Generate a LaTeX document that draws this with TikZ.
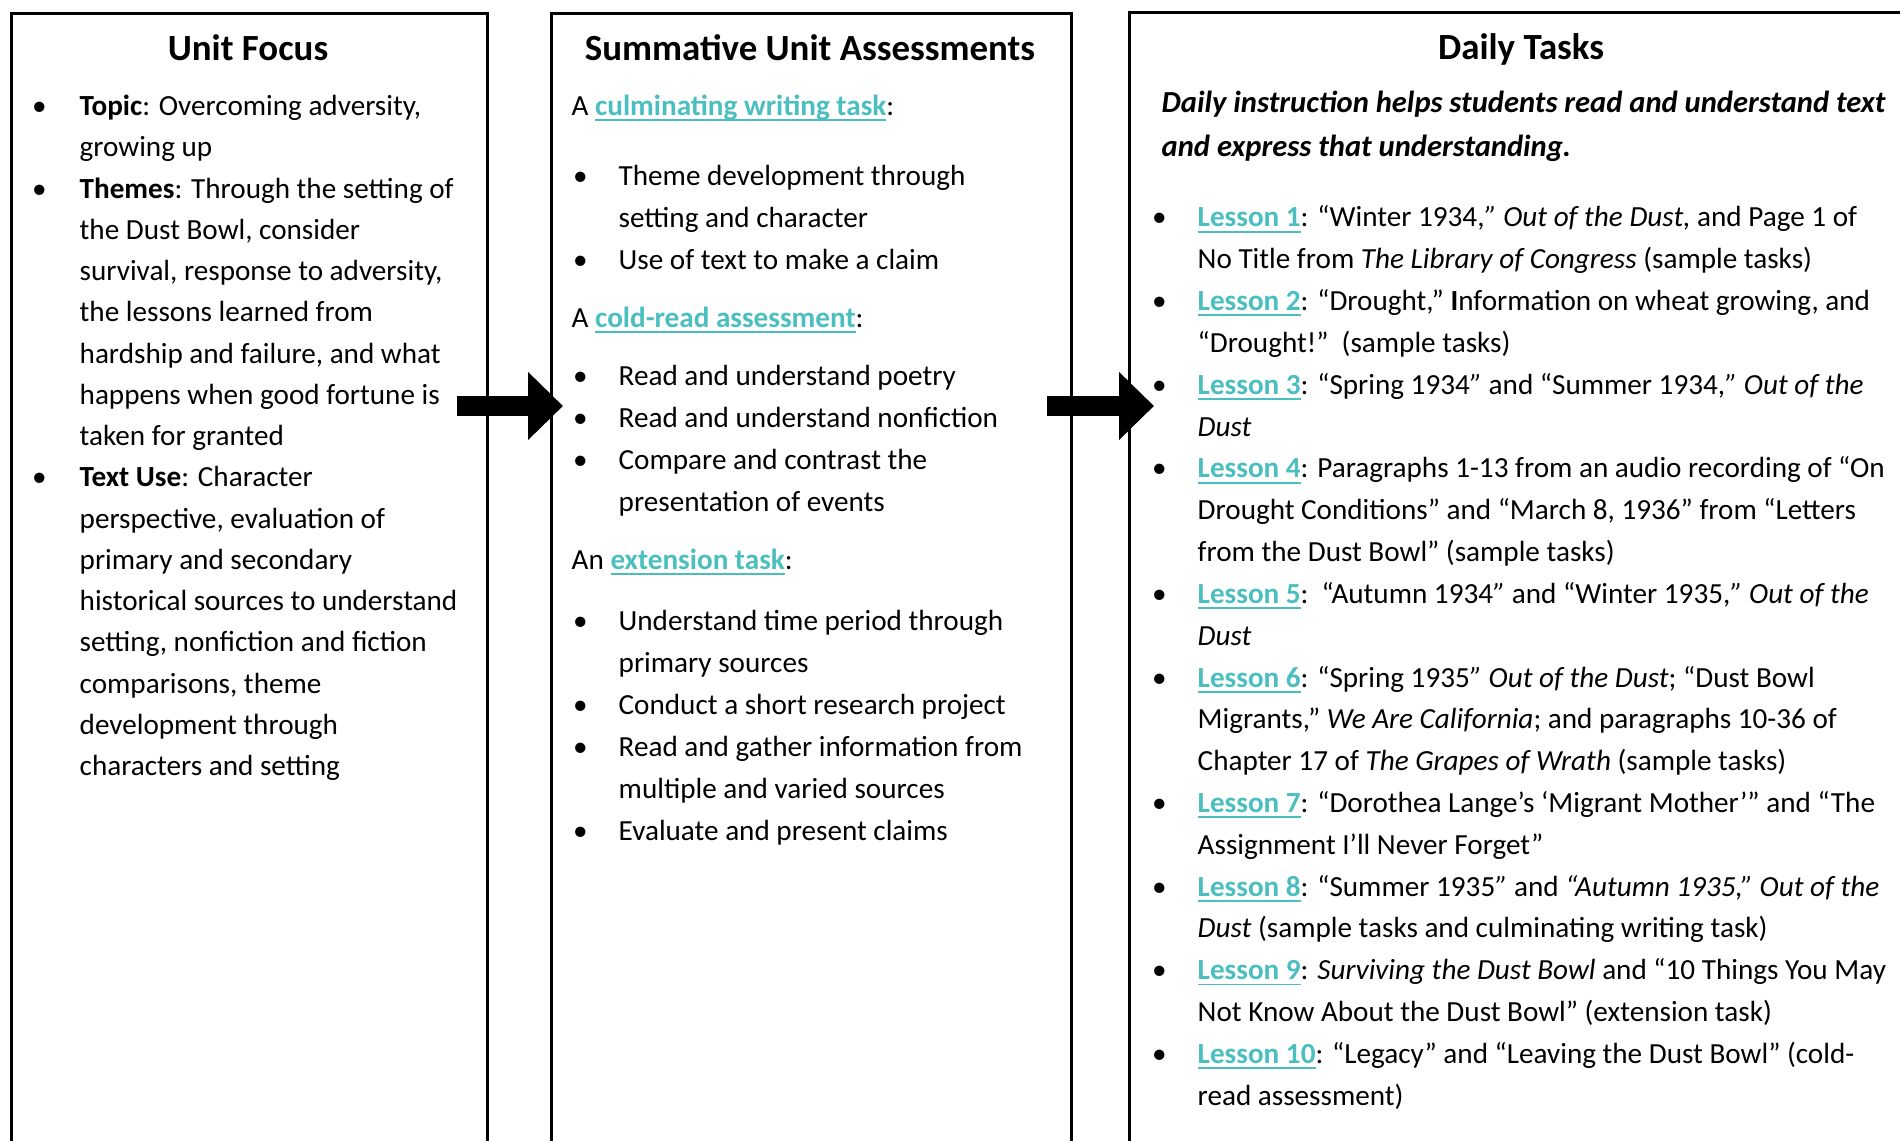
\documentclass[tikz,border=0pt]{standalone}
\usepackage{fontspec}
\setmainfont{Carlito}
\usetikzlibrary{arrows.meta}
\tikzset{>=latex}
\definecolor{linkteal}{RGB}{75,190,192}
\def\framethickness{0.9pt}

\newlength{\bulsep}
\newlength{\hdrshift}
\newcommand{\lnk}[1]{{\bfseries\color{linkteal}\setbox0\hbox{#1}\rlap{\rule[-1.6pt]{\wd0}{0.55pt}}\box0}}
\newcommand{\bulline}[1]{\hbox{\llap{\textbullet\hspace{\bulsep}}#1}}
\newcommand{\contline}[1]{\hbox{#1}}
\newcommand{\hdrline}[1]{\hbox{\hspace*{-\hdrshift}#1}}

\tikzset{
  panel/.style={draw, line width=\framethickness, inner sep=0pt, anchor=north west},
  heading/.style={font=\fontsize{10.5}{12}\selectfont\bfseries, anchor=base, inner sep=0pt},
  bodytext/.style={anchor=base west, inner sep=0pt},
  blockarrow/.style={line width=2mm, -{Triangle[length=3.5mm, width=6.6mm]}}
}

\begin{document}
\begin{tikzpicture}
    \useasboundingbox (0,0) rectangle (19,-11.41);
    \clip (0,0) rectangle (19,-11.41);
    % the three columns
    \node[panel, minimum width=4.76cm, minimum height=11.7cm] (focusbox) at (0.10,-0.12) {};
    \node[panel, minimum width=5.20cm, minimum height=11.7cm] (summbox) at (5.50,-0.12) {};
    \node[panel, minimum width=7.86cm, minimum height=11.7cm] (dailybox) at (11.28,-0.11) {};
    \node[heading] (focustitle) at (2.48,-0.605) {Unit Focus};
    \node[heading] (summtitle) at (8.10,-0.605) {Summative Unit Assessments};
    \node[heading] (dailytitle) at (15.21,-0.595) {Daily Tasks};
    % Unit Focus
    \node[bodytext, font=\fontsize{8.3}{11.74}\selectfont] (focustext) at (0.79,-1.155) {\setlength{\bulsep}{0.33cm}\vtop{%
        \bulline{\textbf{Topic}: Overcoming adversity,}
        \contline{growing up}
        \bulline{\textbf{Themes}: Through the setting of}
        \contline{the Dust Bowl, consider}
        \contline{survival, response to adversity,}
        \contline{the lessons learned from}
        \contline{hardship and failure, and what}
        \contline{happens when good fortune is}
        \contline{taken for granted}
        \bulline{\textbf{Text Use}: Character}
        \contline{perspective, evaluation of}
        \contline{primary and secondary}
        \contline{historical sources to understand}
        \contline{setting, nonfiction and fiction}
        \contline{comparisons, theme}
        \contline{development through}
        \contline{characters and setting}}};
    % Summative Unit Assessments
    \node[bodytext, font=\fontsize{8.3}{11.95}\selectfont] (summtext) at (6.18,-1.155) {\setlength{\bulsep}{0.31cm}\setlength{\hdrshift}{0.47cm}\vtop{%
        \hdrline{A \lnk{culminating writing task}:}
        \vskip 0.28cm
        \bulline{Theme development through}
        \contline{setting and character}
        \bulline{Use of text to make a claim}
        \vskip 0.16cm
        \hdrline{A \lnk{cold-read assessment}:}
        \vskip 0.16cm
        \bulline{Read and understand poetry}
        \bulline{Read and understand nonfiction}
        \bulline{Compare and contrast the}
        \contline{presentation of events}
        \vskip 0.16cm
        \hdrline{An \lnk{extension task}:}
        \vskip 0.19cm
        \bulline{Understand time period through}
        \contline{primary sources}
        \bulline{Conduct a short research project}
        \bulline{Read and gather information from}
        \contline{multiple and varied sources}
        \bulline{Evaluate and present claims}}};
    % Daily Tasks
    \node[bodytext, font=\fontsize{8.7}{12.4}\selectfont\bfseries\itshape] (dailylead) at (11.61,-1.125) {\vtop{%
        \contline{Daily instruction helps students read and understand text}
        \contline{and express that understanding.}}};
    \node[bodytext, font=\fontsize{8.3}{11.9}\selectfont] (dailytext) at (11.97,-2.27) {\setlength{\bulsep}{0.31cm}\vtop{%
        \bulline{\lnk{Lesson 1}: “Winter 1934,\textit{”} \textit{Out of the Dust,} and Page 1 of}
        \contline{No Title from \textit{The Library of Congress} (sample tasks)}
        \bulline{\lnk{Lesson 2}: “Drought,” \textbf{I}nformation on wheat growing, and}
        \contline{“Drought!”\ \ (sample tasks)}
        \bulline{\lnk{Lesson 3}: “Spring 1934\textit{”} and “Summer 1934,\textit{”} \textit{Out of the}}
        \contline{\textit{Dust}}
        \bulline{\lnk{Lesson 4}: Paragraphs 1-13 from an audio recording of “On}
        \contline{Drought Conditions” and “March 8, 1936” from “Letters}
        \contline{from the Dust Bowl” (sample tasks)}
        \bulline{\lnk{Lesson 5}:\ \ “Autumn 1934\textit{”} and “Winter 1935,\textit{”} \textit{Out of the}}
        \contline{\textit{Dust}}
        \bulline{\lnk{Lesson 6}: “Spring 1935\textit{”} \textit{Out of the Dust}; “Dust Bowl}
        \contline{Migrants,” \textit{We Are California}; and paragraphs 10-36 of}
        \contline{Chapter 17 of \textit{The Grapes of Wrath} (sample tasks)}
        \bulline{\lnk{Lesson 7}: “Dorothea Lange’s ‘Migrant Mother’” and “The}
        \contline{Assignment I’ll Never Forget”}
        \bulline{\lnk{Lesson 8}: “Summer 1935\textit{”} and \textit{“Autumn 1935,” Out of the}}
        \contline{\textit{Dust} (sample tasks and culminating writing task)}
        \bulline{\lnk{Lesson 9}: \textit{Surviving the Dust Bowl} and “10 Things You May}
        \contline{Not Know About the Dust Bowl” (extension task)}
        \bulline{\lnk{Lesson 10}: “Legacy” and “Leaving the Dust Bowl” (cold-}
        \contline{read assessment)}}};
    % arrows between the columns
    \coordinate (fromfocus) at (4.57,-4.06);
    \coordinate (tosumm) at (5.63,-4.06);
    \coordinate (fromsumm) at (10.47,-4.06);
    \coordinate (todaily) at (11.54,-4.06);
    \draw[blockarrow] (fromfocus) -- (tosumm);
    \draw[blockarrow] (fromsumm) -- (todaily);
\end{tikzpicture}
\end{document}
